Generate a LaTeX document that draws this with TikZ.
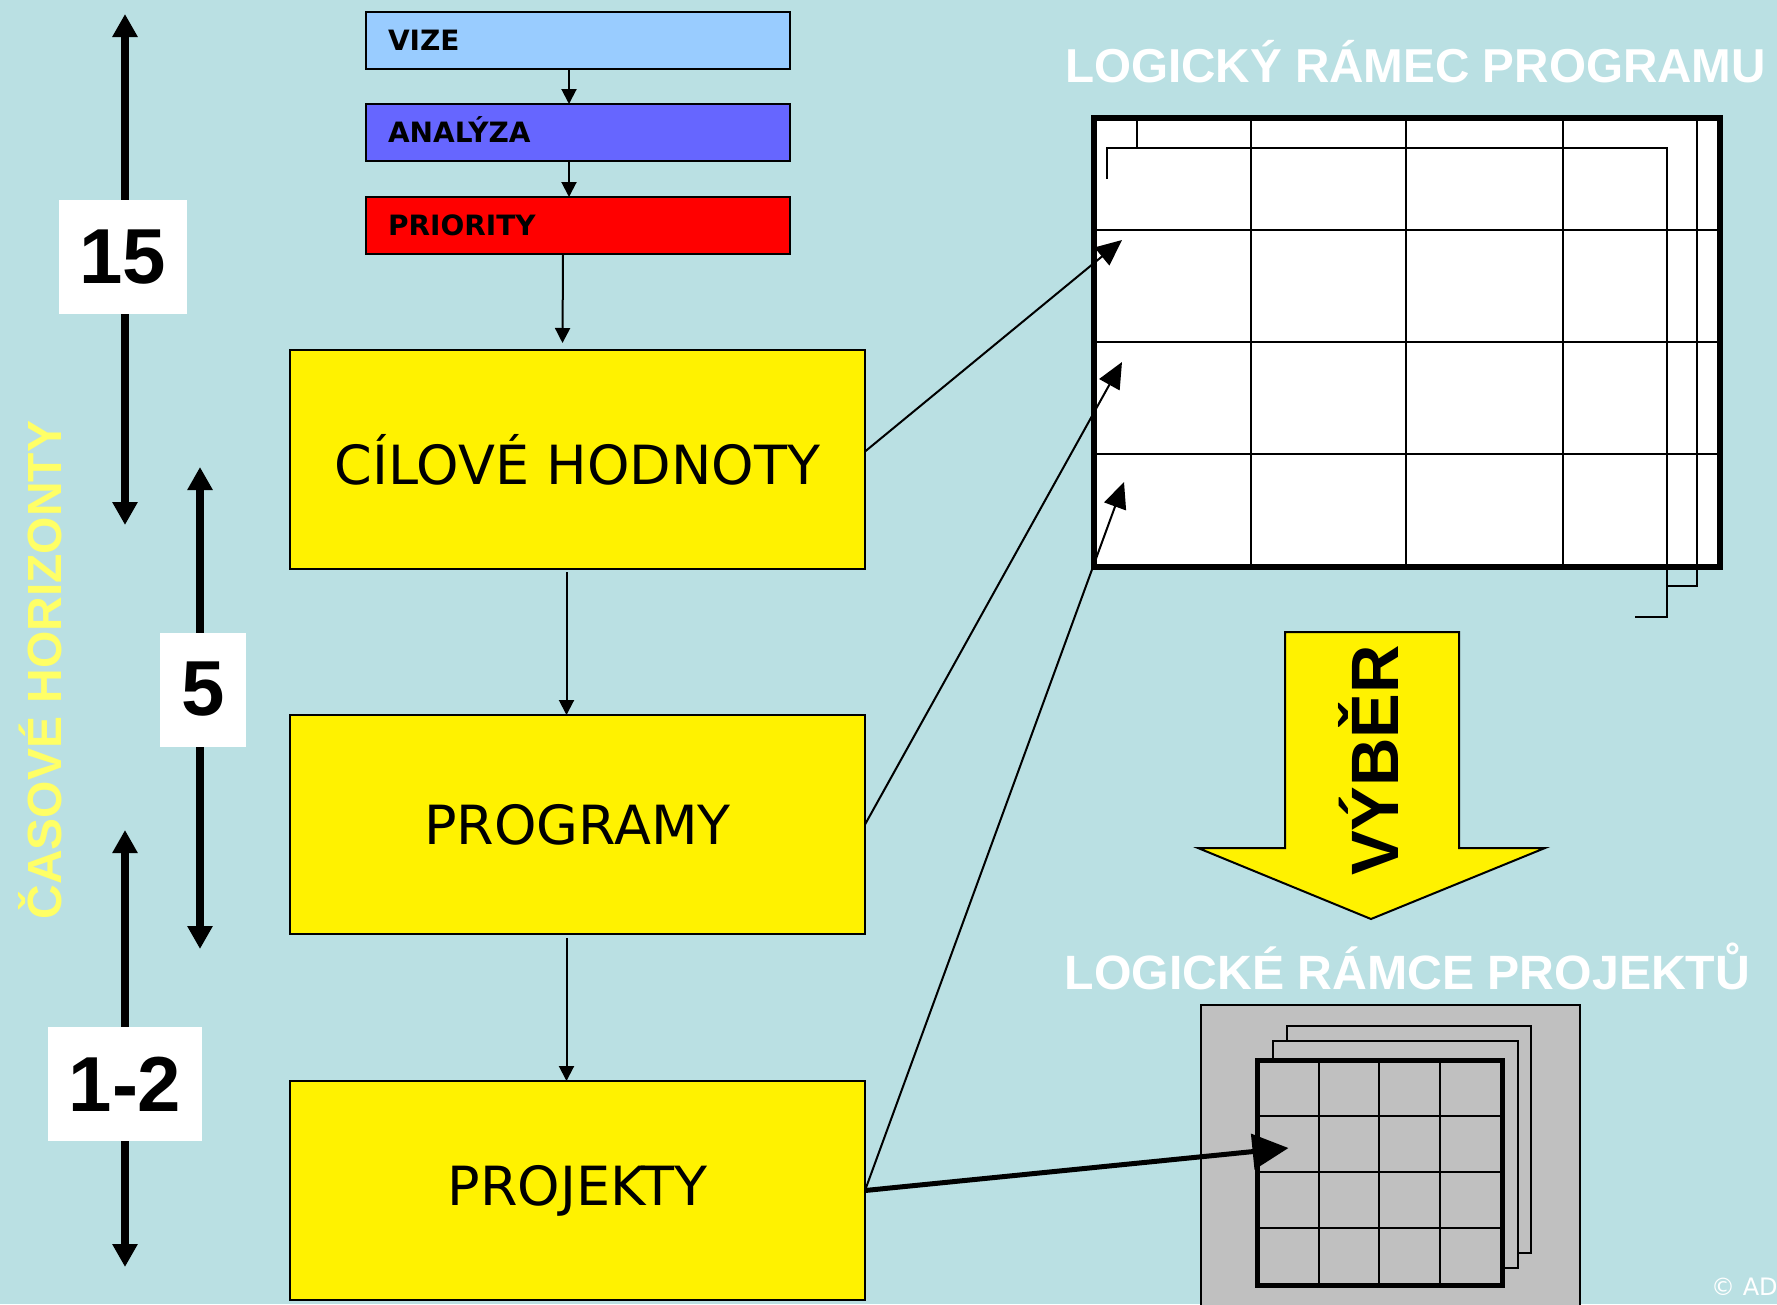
\documentclass[tikz,border=0pt]{standalone}
\usepackage{fontspec}
\setmainfont{DejaVu Sans}
\newfontfamily\arialfont{Liberation Sans}
\usepackage{tikz}
\usetikzlibrary{arrows.meta,positioning,calc}

\definecolor{bgblue}{RGB}{186,224,227}
\definecolor{vizeblue}{RGB}{153,204,255}
\definecolor{analblue}{RGB}{102,102,255}
\definecolor{horizonyellow}{RGB}{255,255,102}
\definecolor{panelgray}{RGB}{192,192,192}

\begin{document}
\begin{tikzpicture}[
    x=1pt, y=-1pt,
    node distance=35pt,
    topbox/.style={rectangle, draw, line width=2pt, outer sep=0pt, text width=380pt, inner xsep=22pt, inner ysep=0pt, text height=20pt, text depth=0pt, minimum height=57pt, align=left, font=\bfseries\fontsize{28}{30}\selectfont},
    goalbox/.style={rectangle, draw, line width=2pt, outer sep=0pt, fill=yellow, minimum width=575pt, minimum height=219pt, font=\fontsize{54}{60}\selectfont},
    yearbox/.style={rectangle, fill=white, inner xsep=21pt, minimum height=114pt, font=\arialfont\bfseries\fontsize{78}{80}\selectfont},
    heading/.style={text=white, anchor=base, font=\arialfont\bfseries\fontsize{47.6}{50}\selectfont},
    arrow/.style={-{Triangle[length=15pt,width=15pt]}, line width=2pt},
    link/.style={-{Triangle[length=26pt,width=23pt]}, line width=2pt},
    biglink/.style={-{Triangle[length=36pt,width=35pt]}, line width=5pt},
    horizon/.style={{Triangle[length=23pt,width=24pt]}-{Triangle[length=23pt,width=24pt]}, line width=7.5pt}
]

% Background
\useasboundingbox (0,0) rectangle (1777,1304);
\fill[bgblue] (0,0) rectangle (1777,1304);

% Time horizons
\coordinate (h15a) at (125,14);
\coordinate (h15b) at (125,525);
\coordinate (h5a) at (200,467);
\coordinate (h5b) at (200,949);
\coordinate (h12a) at (125,830);
\coordinate (h12b) at (125,1267);
\draw[horizon] (h15a) -- (h15b);
\draw[horizon] (h5a) -- (h5b);
\draw[horizon] (h12a) -- (h12b);
\node[yearbox] (y15) at (123,257) {15};
\node[yearbox] (y5) at (203,689.5) {5};
\node[yearbox] (y12) at (125,1084) {1-2};
\node[rotate=90, anchor=base, text=horizonyellow, font=\arialfont\bfseries\fontsize{48}{50}\selectfont] (horiz) at (61,670) {ČASOVÉ HORIZONTY};

% Vision, analysis, priorities
\node[topbox, fill=vizeblue, anchor=north west] (vize) at (366,12) {VIZE};
\node[topbox, fill=analblue, below=35pt of vize] (analyza) {ANALÝZA};
\node[topbox, fill=red, below=36pt of analyza] (priority) {PRIORITY};

% Goal levels
\node[goalbox] (cilove) at (577.5,459.5) {CÍLOVÉ HODNOTY};
\node[goalbox, below=146pt of cilove] (programy) {PROGRAMY};
\node[goalbox, below=147pt of programy] (projekty) {PROJEKTY};

% Logical frame of the programme
\node[heading] (lfptitle) at (1415.5,82.7) {LOGICKÝ RÁMEC PROGRAMU};
\node[draw, line width=6pt, fill=white, minimum width=626pt, minimum height=449pt, inner sep=0pt, outer sep=0pt, anchor=north west] (lfp) at (1094,118) {};
\foreach \gx in {1251,1406,1563}
    \draw[line width=2.5pt] (\gx,118) -- (\gx,567);
\foreach \gy in {230,342,454}
    \draw[line width=2.5pt] (1094,\gy) -- (1720,\gy);
\draw[line width=2pt] (1137,118) -- (1137,148);
\draw[line width=2pt] (1107,179) -- (1107,148) -- (1667,148) -- (1667,617) -- (1635,617);
\draw[line width=2pt] (1697,118) -- (1697,586) -- (1667,586);
\draw[line width=6pt, line cap=round] (lfp.north west) rectangle (lfp.south east);
\coordinate (inCil) at (1122,240);
\coordinate (inProg) at (1122,362);
\coordinate (inProj) at (1124,482);

% Selection
\draw[fill=yellow, line width=2pt] (1285,632) -- (1459,632) -- (1459,848) -- (1545,848) -- (1371,919) -- (1198,848) -- (1285,848) -- cycle;
\node[rotate=90, anchor=base, font=\arialfont\bfseries\fontsize{67}{70}\selectfont] (vyber) at (1398,760.5) {VÝBĚR};

% Logical frames of the projects
\node[heading, font=\arialfont\bfseries\fontsize{48.2}{50}\selectfont] (lfrtitle) at (1407.5,989) {LOGICKÉ RÁMCE PROJEKTŮ};
\draw[fill=panelgray, line width=2pt] (1201,1005) rectangle (1580,1320);
\draw[fill=panelgray, line width=2pt] (1287,1026) rectangle (1531,1253);
\draw[fill=panelgray, line width=2pt] (1273,1041) rectangle (1518,1268);
\node[draw, line width=5pt, fill=panelgray, minimum width=245pt, minimum height=225pt, inner sep=0pt, outer sep=0pt, anchor=north west] (lfr) at (1257,1060) {};
\foreach \gx in {1319,1379,1440}
    \draw[line width=2.5pt] (\gx,1060) -- (\gx,1285);
\foreach \gy in {1116,1172,1228}
    \draw[line width=2.5pt] (1257,\gy) -- (1502,\gy);
\draw[line width=5pt] (lfr.north west) rectangle (lfr.south east);
\coordinate (inLfr) at (1288.5,1148);

% Arrows
\draw[arrow] ([xshift=-9pt]vize.south) -- ([xshift=-9pt]analyza.north);
\draw[arrow] ([xshift=-9pt]analyza.south) -- ([xshift=-9pt]priority.north);
\draw[arrow] ([xshift=-15pt]priority.south) -- ([xshift=-15pt,yshift=7pt]cilove.north);
\draw[arrow, shorten <=3pt] ([xshift=-11pt]cilove.south) -- ([xshift=-11pt]programy.north);
\draw[arrow, shorten <=4pt] ([xshift=-11pt]programy.south) -- ([xshift=-11pt]projekty.north);
\draw[link] ([yshift=8pt]cilove.east) -- (inCil);
\draw[link] (programy.east) -- (inProg);
\draw[link] (projekty.east) -- (inProj);
\draw[biglink] (projekty.east) -- (inLfr);

% Copyright
\node[anchor=base west, text=white, inner sep=0pt, font=\fontsize{24}{26}\selectfont] (copy) at (1711,1295) {© AD};

\end{tikzpicture}
\end{document}
